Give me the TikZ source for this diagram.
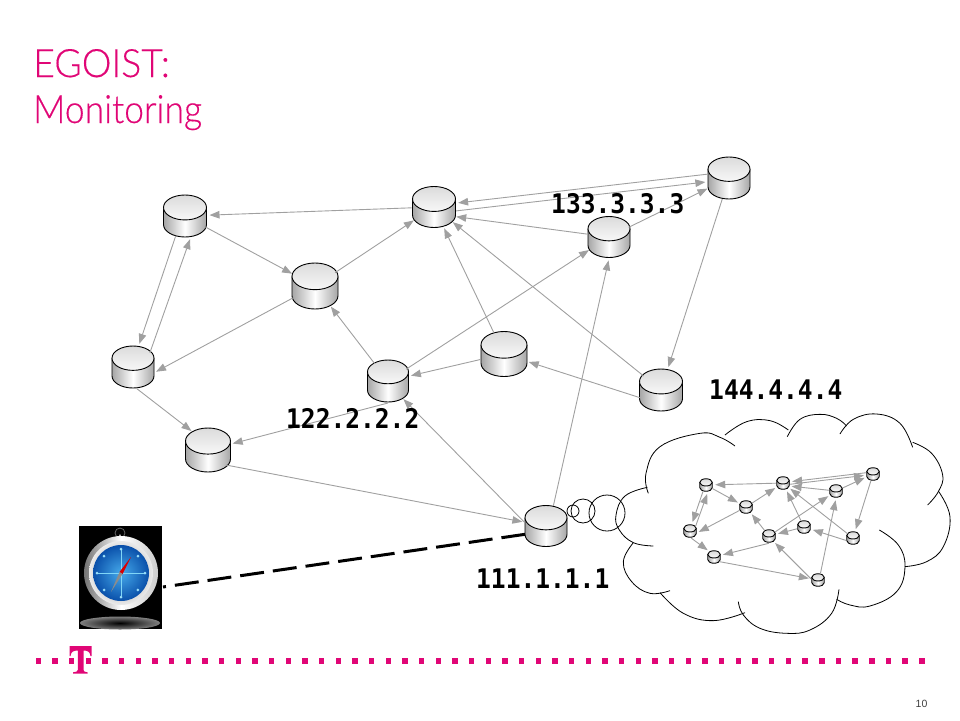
\documentclass[tikz,border=0pt]{standalone}
\usepackage{fontspec}
\setmainfont{Liberation Sans}
\newfontfamily\titlefont[FakeStretch=0.91,FakeBold=0.3]{Lato Light}
\newfontfamily\titlecapsfont[FakeStretch=0.96,FakeBold=0.3]{Lato Light}
\newfontfamily\ipfont[FakeStretch=0.91]{DejaVu Sans Mono}
\usetikzlibrary{arrows.meta,shapes.geometric}
\definecolor{tmagenta}{RGB}{224,6,118}
\definecolor{linkgray}{RGB}{160,160,160}
\definecolor{dialinner}{RGB}{70,170,235}
\definecolor{dialouter}{RGB}{10,80,170}
\tikzset{
  dbshape/.style={shape=ellipse,inner sep=0pt,outer sep=1pt},
  dbline/.style={draw=black,line width=.9pt},
  link/.style={draw=linkgray,line width=.9pt,-{Triangle[length=10pt,width=7.5pt]},shorten >=2pt},
  iplabel/.style={anchor=base west,inner sep=0pt,font=\ipfont\bfseries\fontsize{27}{27}\selectfont},
  titlelabel/.style={anchor=base west,inner sep=0pt,text=tmagenta},
  cloudline/.style={draw=black,line width=.8pt}
}
% name, x, y, width, height
\newcommand{\dbnode}[5]{
  \pgfmathsetmacro{\rx}{#4/2}
  \pgfmathsetmacro{\ry}{#4*.29}
  \pgfmathsetmacro{\yt}{#3-#5/2+\ry}
  \pgfmathsetmacro{\yb}{#3+#5/2-\ry}
  \shade[left color=black!35,right color=black!35,middle color=white] (#2-\rx,\yt) -- (#2-\rx,\yb)
    arc [start angle=180,end angle=0,x radius=\rx,y radius=\ry] -- (#2+\rx,\yt) -- cycle;
  \draw[dbline] (#2-\rx,\yt) -- (#2-\rx,\yb)
    arc [start angle=180,end angle=0,x radius=\rx,y radius=\ry] -- (#2+\rx,\yt);
  \shade[top color=black!14,bottom color=black!3] (#2,\yt) ellipse [x radius=\rx,y radius=\ry];
  \draw[dbline] (#2,\yt) ellipse [x radius=\rx,y radius=\ry];
  \node[dbshape,minimum width=#4 pt,minimum height=#5 pt] (#1) at (#2,#3) {};
}
\begin{document}
\begin{tikzpicture}[x=1pt,y=-1pt]
\useasboundingbox (0,0) rectangle (960,720);
\node[titlelabel,font=\titlecapsfont\fontsize{39}{39}\selectfont] (titletop) at (33,77) {EGOIST:};
\node[titlelabel,font=\titlefont\fontsize{39}{39}\selectfont] (titlebottom) at (33,123) {Monitoring};

% monitoring link
\coordinate (linkstart) at (163,587);
\coordinate (linkend) at (527,534);
\draw[line width=3pt,dash pattern=on 24pt off 9pt,dash phase=21pt] (linkstart) -- (linkend);

% big network
\foreach \name/\x/\y/\w/\h in {a/185/216/43/42,b/315/286/46/46,c/434/207/43/41,d/609/237/42/41,e/729/178/42/42,f/133/367/42/42,
  g/388/381/41/42,h/504/354/46/45,i/661/390/43/42,j/208/450/45/44,k/546/526/42/41}
  {\dbnode{n\name}{\x}{\y}{\w}{\h}}
% small network in the cloud
\foreach \name/\x/\y in {a/706/485,b/746/507,c/783/483,d/836/491,e/873/474,f/690/531,
  g/769/536,h/804/527,i/853/538,j/714/557,k/818/580}
  {\dbnode{m\name}{\x}{\y}{12.5}{12.5}}

\foreach \net in {n,m} {
  \foreach \from/\to in {c/a,a/b,b/c,g/b,g/d,h/c,h/g,i/c,d/e,e/i}
    \draw[link] (\net\from) -- (\net\to);
  \draw[link] (\net a.245) -- (\net f.75);
  \draw[link] (\net f.40) -- (\net a.285);
  \draw[link] (\net e.170) -- (\net c.10);
  \draw[link] (\net c.350) -- (\net e.190);
  \draw[link] (\net g.south) -- (\net j);
  \draw[link] (\net b) -- (\net f.345);
  \draw[link] (\net f.280) -- (\net j.130);
  \draw[link] (\net j.320) -- (\net k.170);
  \draw[link] (\net k.170) -- (\net g.310);
  \draw[link] (\net k.70) -- (\net d.south);
  \draw[link] (\net i.200) -- (\net h);
  \draw[link] (\net d) -- (\net c.335);
}

% cloud
\begin{scope}[shift={(610,410)},x=.3333pt,y=-.3333pt]
\draw[cloudline] plot[smooth,tension=.7] coordinates {(130,408) (70,398) (28,360) (18,315) (45,258) (112,232)};
\draw[cloudline] plot[smooth,tension=.7] coordinates {(115,250) (108,190) (150,110) (270,70) (330,82) (375,108)};
\draw[cloudline] plot[smooth,tension=.7] coordinates {(345,75) (410,35) (480,32) (535,60)};
\draw[cloudline] plot[smooth,tension=.7] coordinates {(532,80) (570,28) (630,13) (680,25) (710,48)};
\draw[cloudline] plot[smooth,tension=.7] coordinates {(690,72) (730,28) (800,12) (870,40) (908,112)};
\draw[cloudline] plot[smooth,tension=.7] coordinates {(908,97) (965,130) (998,195) (985,245) (953,285)};
\draw[cloudline] plot[smooth,tension=.7] coordinates {(985,243) (1020,320) (1000,410) (950,455) (885,470)};
\draw[cloudline] plot[smooth,tension=.7] coordinates {(808,360) (865,405) (885,470) (860,545) (780,588) (720,585) (680,568)};
\draw[cloudline] plot[smooth,tension=.7] coordinates {(687,538) (665,610) (600,660) (530,670) (450,655) (400,615) (385,575)};
\draw[cloudline] plot[smooth,tension=.7] coordinates {(405,608) (310,632) (220,610) (150,548)};
\draw[cloudline] plot[smooth,tension=.7] coordinates {(180,542) (120,550) (65,515) (40,455) (70,398)};
\end{scope}

% bubbles
\node[draw,circle,line width=.8pt,minimum size=12pt,inner sep=0pt] (bubblea) at (573,511) {};
\node[draw,circle,line width=.8pt,minimum size=24pt,inner sep=0pt] (bubbleb) at (583,511) {};
\node[draw,circle,line width=.8pt,minimum size=36pt,inner sep=0pt] (bubblec) at (607,513) {};

% compass
\node[fill=black,minimum width=83pt,minimum height=103pt,inner sep=0pt] (compass) at (120.5,577.5) {};
\shade[inner color=black,outer color=black!50] (120,623) ellipse [x radius=40,y radius=6.5];
\draw[black!60,line width=.8pt] (120,533) circle [radius=5];
\fill[black!25] (116,541) -- (120,534) -- (124,541) -- cycle;
\shade[left color=black!55,right color=black!20,middle color=white] (121,573) circle [radius=37];
\shade[inner color=black!45,outer color=black!8] (121,573) circle [radius=32];
\shade[inner color=dialinner,outer color=dialouter] (121,573) circle [radius=28];
\foreach \ang in {0,45,...,315}
  \fill[cyan!40] (121,573) ++(\ang:24) circle [radius=1.5];
\draw[cyan!50,line width=.4pt] (98,573) -- (144,573) (121,550) -- (121,596);
\fill[red!85!black] (119.5,572) -- (131,557) -- (122.5,574) -- cycle;
\fill[black!45] (119.5,572) -- (111,592) -- (122.5,574) -- cycle;

% labels
\node[iplabel] (iptop) at (551,213) {133.3.3.3};
\node[iplabel] (ipright) at (709,399) {144.4.4.4};
\node[iplabel] (ipleft) at (286,428) {122.2.2.2};
\node[iplabel] (ipbottom) at (476,588) {111.1.1.1};

% footer
\foreach \i in {0,...,53}
  \fill[tmagenta] ({38.3+16.67*\i-2.7},658.3) rectangle ++(5.4,5.4);
\fill[tmagenta] (69.5,646) -- (91.5,646) -- (91.5,656) -- (90.5,656) .. controls (90,652) and (88,650.5) .. (83.5,650.5)
  -- (83.5,670) .. controls (83.5,671.5) and (85,672) .. (87.5,672.3) -- (87.5,673.5) -- (73,673.5) -- (73,672.3)
  .. controls (76,672) and (77.8,671.5) .. (77.8,670) -- (77.8,650.5) .. controls (73,650.5) and (71,652) .. (70.5,656)
  -- (69.5,656) -- cycle;
\node[inner sep=0pt,text=black!75,font=\fontsize{10.5}{10.5}\selectfont] (pagenum) at (921.5,703.5) {10};
\end{tikzpicture}
\end{document}
